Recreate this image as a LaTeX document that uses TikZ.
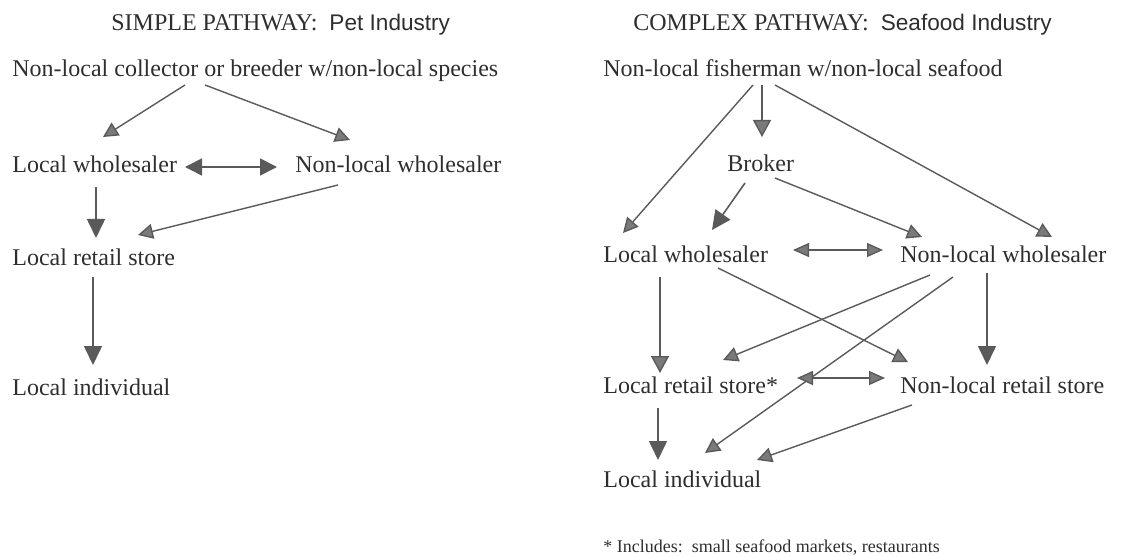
\documentclass[tikz,border=0pt]{standalone}
\usepackage{fontspec}
\setmainfont{Liberation Serif}
\newfontfamily\arialfont{Liberation Sans}
\usetikzlibrary{arrows.meta,calc}
\definecolor{inkgray}{HTML}{2E2E2E}
\definecolor{linegray}{HTML}{5A5A5A}
\definecolor{headgray}{HTML}{7A7A7A}
\tikzset{
  lbl/.style={anchor=base west,inner sep=0pt,text=inkgray,font=\fontsize{12}{14}\selectfont},
  note/.style={anchor=base west,inner sep=0pt,text=inkgray,font=\fontsize{9}{11}\selectfont},
  flow/.style={draw=linegray,line width=0.7pt,-{Triangle[length=7.5pt,width=7.5pt,fill=headgray]}},
  midflow/.style={draw=linegray,line width=0.7pt,-{Triangle[length=8.5pt,width=9pt,fill=headgray]}},
  bigflow/.style={draw=linegray,line width=0.8pt,-{Triangle[length=9.5pt,width=9pt]}},
  twoway/.style={draw=linegray,line width=0.7pt,{Triangle[length=8pt,width=7pt,fill=headgray]}-{Triangle[length=8pt,width=7pt,fill=headgray]}},
  bigtwoway/.style={draw=linegray,line width=0.8pt,{Triangle[length=8.5pt,width=8.5pt]}-{Triangle[length=8.5pt,width=8.5pt]}}
}
\newcommand{\sanspart}[1]{{\arialfont\fontsize{11.3}{13}\selectfont #1}}
\begin{document}
\begin{tikzpicture}[x=0.5pt,y=-0.5pt]
\useasboundingbox (0,0) rectangle (1142,556);
% simple pathway
\node[lbl] (simple) at (111,31) {SIMPLE PATHWAY:\ \ \sanspart{Pet Industry}};
\node[lbl] (coll) at (12,77) {Non-local collector or breeder w/non-local species};
\node[lbl] (lwL) at (12,173) {Local wholesaler};
\node[lbl] (nlwL) at (295,173) {Non-local wholesaler};
\node[lbl] (lrsL) at (12,265) {Local retail store};
\node[lbl] (liL) at (12,395) {Local individual};
\draw[flow] ($(coll.base west)+(173,8)$) -- ($(lwL.base west)+(91,-36)$);
\draw[flow] ($(coll.base west)+(193,8)$) -- ($(nlwL.base west)+(55,-33)$);
\draw[bigtwoway] ($(lwL.base west)+(173,-6)$) -- ($(nlwL.base west)+(-18,-6)$);
\draw[bigflow] ($(lwL.base west)+(84,14)$) -- ($(lrsL.base west)+(84,-27)$);
\draw[flow] ($(nlwL.base west)+(43,12)$) -- ($(lrsL.base west)+(126,-30)$);
\draw[bigflow] ($(lrsL.base west)+(81,12)$) -- ($(liL.base west)+(81,-30)$);
% complex pathway
\node[lbl] (complex) at (633,31) {COMPLEX PATHWAY:\ \ \sanspart{Seafood Industry}};
\node[lbl] (fish) at (603,77) {Non-local fisherman w/non-local seafood};
\node[lbl] (broker) at (727,172) {Broker};
\node[lbl] (lwR) at (603,263) {Local wholesaler};
\node[lbl] (nlwR) at (900,263) {Non-local wholesaler};
\node[lbl] (lrsR) at (603,393) {Local retail store*};
\node[lbl] (nlrsR) at (900,393) {Non-local retail store};
\node[lbl] (liR) at (603,487) {Local individual};
\node[note] (foot) at (603,552) {* Includes:\ \ small seafood markets, restaurants};
\draw[flow] ($(fish.base west)+(150,8)$) -- ($(lwR.base west)+(20,-30)$);
\draw[midflow] ($(fish.base west)+(159,8)$) -- ($(broker.base west)+(35,-35)$);
\draw[flow] ($(fish.base west)+(172,8)$) -- ($(nlwR.base west)+(152,-26)$);
\draw[bigflow] ($(broker.base west)+(18,11)$) -- ($(lwR.base west)+(109,-33)$);
\draw[flow] ($(broker.base west)+(48,6)$) -- ($(nlwR.base west)+(22,-26)$);
\draw[twoway] ($(lwR.base west)+(190,-13)$) -- ($(nlwR.base west)+(-17,-13)$);
\draw[midflow] ($(lwR.base west)+(57,14)$) -- ($(lrsR.base west)+(57,-20)$);
\draw[flow] ($(lwR.base west)+(115,5)$) -- ($(nlrsR.base west)+(8,-31)$);
\draw[flow] ($(nlwR.base west)+(30,12)$) -- ($(lrsR.base west)+(120,-33)$);
\draw[flow] ($(nlwR.base west)+(53,14)$) -- ($(liR.base west)+(102,-34)$);
\draw[bigflow] ($(nlwR.base west)+(87,10)$) -- ($(nlrsR.base west)+(87,-28)$);
\draw[twoway] ($(lrsR.base west)+(194,-15)$) -- ($(nlrsR.base west)+(-15,-15)$);
\draw[bigflow] ($(lrsR.base west)+(55,15)$) -- ($(liR.base west)+(55,-27)$);
\draw[flow] ($(nlrsR.base west)+(12,12)$) -- ($(liR.base west)+(154,-27)$);
\end{tikzpicture}
\end{document}
